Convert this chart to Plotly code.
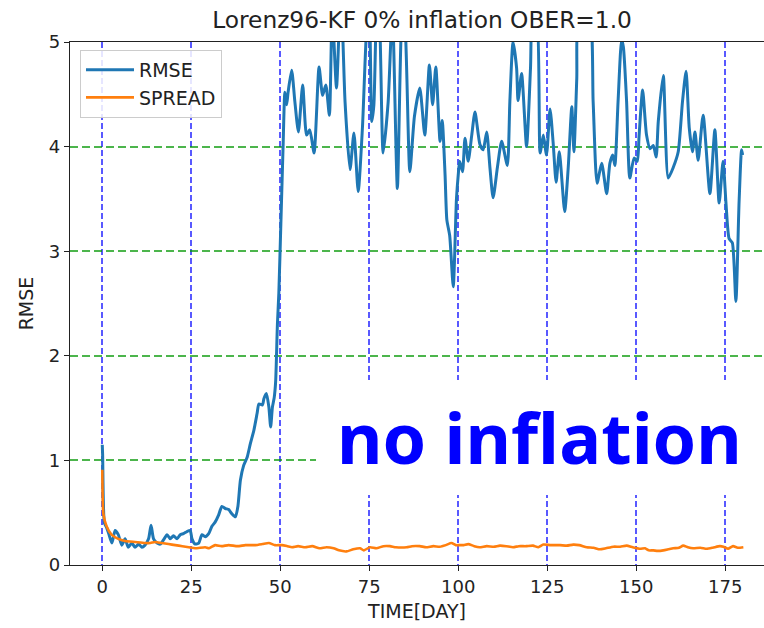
import plotly.graph_objects as go

# ---- data ----
rmse_t = [0.0, 0.1, 0.6, 1.2, 1.8, 2.7, 3.6, 4.5, 5.5, 6.4, 7.3, 8.3, 9.2, 10.2, 11.1, 12.0,
          13.0, 13.7, 14.4, 15.4, 16.3, 17.2, 18.2, 19.1, 20.0, 21.0, 21.9, 22.8, 23.8, 24.7,
          25.2, 26.1, 27.1, 28.0, 28.9, 29.9, 30.8, 31.7, 32.7, 33.6, 34.6, 35.5, 36.4, 37.4,
          38.1, 38.8, 39.7, 40.7, 41.6, 42.6, 43.5, 44.0, 45.0, 45.4, 46.1, 46.8, 47.3, 47.8,
          48.3, 48.7, 49.2, 49.6, 50.2, 50.8, 51.3, 51.8, 52.2, 53.2, 54.1, 55.1, 56.3, 57.4,
          58.3, 59.5, 60.9, 61.9, 62.8, 63.8, 64.6, 65.8, 66.9, 67.4, 68.2, 69.6, 70.7, 71.9,
          73.1, 74.4, 75.0, 75.7, 76.3, 77.2, 77.8, 78.9, 80.3, 81.5, 82.9, 84.3, 85.0, 86.4,
          87.7, 89.2, 90.6, 91.9, 92.8, 93.7, 94.9, 95.5, 96.3, 96.8, 97.6, 98.6, 99.5, 100.0,
          100.4, 101.2, 101.9, 102.8, 103.8, 104.7, 106.1, 107.0, 108.0, 108.9, 109.8, 111.0,
          112.2, 113.8, 114.5, 115.4, 116.4, 116.8, 117.8, 119.2, 120.3, 121.0, 121.9, 123.0,
          123.9, 124.8, 125.8, 126.7, 127.5, 128.4, 129.9, 130.9, 131.9, 132.5, 133.3, 134.0,
          136.7, 137.9, 139.0, 140.3, 141.7, 142.6, 143.4, 144.0, 144.9, 145.9, 146.4, 147.3,
          148.2, 149.4, 150.3, 150.8, 151.8, 152.9, 153.9, 154.8, 155.6, 156.2, 157.6, 159.0,
          160.4, 161.8, 163.0, 164.0, 164.9, 165.8, 166.5, 167.4, 168.8, 170.7, 172.1, 173.3,
          174.4, 175.2, 176.1, 177.0, 178.0, 178.9, 179.6, 179.9]
rmse_v = [1.15, 1.05, 0.40, 0.36, 0.30, 0.21, 0.33, 0.29, 0.19, 0.25, 0.17, 0.21, 0.17, 0.20, 0.17, 0.19,
          0.25, 0.38, 0.25, 0.21, 0.20, 0.24, 0.29, 0.25, 0.28, 0.25, 0.29, 0.30, 0.32, 0.33,
          0.25, 0.20, 0.21, 0.29, 0.27, 0.30, 0.37, 0.41, 0.48, 0.56, 0.54, 0.53, 0.49, 0.46,
          0.56, 0.81, 0.95, 1.03, 1.16, 1.29, 1.45, 1.54, 1.53, 1.59, 1.64, 1.51, 1.32, 1.51,
          1.60, 1.75, 2.30, 2.60, 3.30, 4.01, 4.52, 4.40, 4.52, 4.73, 4.43, 4.14, 4.59, 4.11,
          4.16, 3.94, 4.76, 4.49, 4.59, 4.30, 5.30, 4.56, 5.40, 5.20, 4.43, 3.78, 4.13, 3.57,
          4.19, 5.20, 5.30, 4.24, 4.40, 5.40, 5.30, 3.94, 4.42, 5.30, 3.60, 5.30, 5.20, 3.76,
          4.29, 4.56, 4.11, 4.78, 4.40, 4.76, 4.05, 4.25, 3.73, 3.30, 3.15, 2.66, 3.50, 3.73,
          3.86, 3.76, 4.08, 3.86, 4.11, 4.33, 4.02, 3.97, 4.14, 3.80, 3.51, 3.80,
          4.05, 3.82, 4.43, 5.00, 4.75, 4.44, 4.70, 4.00, 4.75, 5.30, 5.30, 3.94,
          4.11, 3.92, 4.36, 4.02, 3.66, 3.95, 3.38, 3.80, 4.38, 3.95, 4.65, 5.30,
          5.30, 4.43, 3.65, 3.84, 3.55, 3.84, 3.92, 3.82, 4.43, 5.02, 4.95, 4.43,
          3.70, 3.89, 3.86, 4.10, 4.54, 4.11, 3.98, 4.01, 3.90, 4.24, 4.68, 3.70,
          3.80, 3.95, 4.43, 4.72, 4.18, 3.95, 4.14, 3.87, 4.30, 3.55, 4.16, 3.46,
          3.86, 3.47, 3.12, 3.08, 2.52, 3.47, 3.97, 3.92]

spread_t = [0.0, 0.3, 1.2, 2.6, 4.5, 6.4, 9.2, 12.0, 13.5, 14.8, 16.7, 18.6, 20.5, 22.5, 24.3,
            26.1, 28.9, 30.0, 31.7, 33.5, 35.5, 38.0, 40.2, 43.0, 45.0, 46.8, 48.5, 50.5, 52.0,
            53.3, 55.0, 57.0, 59.0, 61.0, 63.0, 65.0, 66.5, 68.6, 70.5, 72.4, 73.5, 75.2, 77.0,
            79.0, 80.8, 82.5, 85.5, 87.0, 89.2, 91.0, 93.0, 94.8, 96.5, 98.1, 99.3, 100.4, 101.5,
            102.8, 104.5, 106.0, 108.0, 110.0, 111.7, 113.5, 115.4, 117.0, 119.0, 121.0, 122.5,
            123.9, 126.0, 128.6, 130.5, 132.3, 134.0, 136.1, 138.0, 139.8, 141.5, 143.6, 145.5,
            147.3, 149.0, 151.1, 152.5, 153.5, 154.8, 156.0, 157.6, 159.0, 160.4, 162.0, 163.2,
            164.5, 166.0, 168.0, 169.8, 171.5, 173.5, 174.5, 175.8, 177.2, 178.5, 180.1]
spread_v = [0.91, 0.49, 0.37, 0.29, 0.25, 0.23, 0.22, 0.21, 0.21, 0.22, 0.21, 0.20, 0.19, 0.18, 0.17,
            0.16, 0.17, 0.16, 0.19, 0.18, 0.19, 0.18, 0.19, 0.19, 0.20, 0.21, 0.19, 0.19, 0.18,
            0.17, 0.18, 0.17, 0.18, 0.16, 0.17, 0.16, 0.14, 0.13, 0.15, 0.16, 0.14, 0.17, 0.16,
            0.18, 0.18, 0.17, 0.17, 0.18, 0.18, 0.17, 0.18, 0.175, 0.19, 0.21, 0.19, 0.19, 0.19,
            0.20, 0.18, 0.17, 0.18, 0.175, 0.185, 0.18, 0.17, 0.18, 0.18, 0.185, 0.17,
            0.195, 0.19, 0.19, 0.185, 0.195, 0.19, 0.17, 0.165, 0.15, 0.16, 0.175, 0.175,
            0.185, 0.17, 0.155, 0.16, 0.14, 0.14, 0.135, 0.14, 0.15, 0.16, 0.165, 0.185,
            0.17, 0.16, 0.165, 0.155, 0.165, 0.18, 0.175, 0.155, 0.18, 0.165, 0.17]

x_ticks = [0, 25, 50, 75, 100, 125, 150, 175]
y_ticks = [0, 1, 2, 3, 4, 5]

title_text = "Lorenz96-KF 0% inflation OBER=1.0"
note_text = "no inflation"

FONT = "DejaVu Sans"

fig = go.Figure()
fig.add_trace(go.Scatter(x=rmse_t, y=rmse_v, mode="lines", name="RMSE",
                         line=dict(color="#1f77b4", width=3, shape="spline", smoothing=0.6)))
fig.add_trace(go.Scatter(x=spread_t, y=spread_v, mode="lines", name="SPREAD",
                         line=dict(color="#ff7f0e", width=2.6, shape="spline", smoothing=0.5)))

# white box behind the big note text
fig.add_shape(type="rect", xref="paper", yref="paper",
              x0=0.3545, x1=1.0, y0=0.1338, y1=0.3537,
              fillcolor="white", line=dict(width=0), layer="above")
fig.add_annotation(text=note_text, xref="paper", yref="paper", x=0.677, y=0.245,
                   xanchor="center", yanchor="middle", showarrow=False,
                   font=dict(family="Noto Sans", size=70, color="#0000ff", weight="bold"))

fig.update_layout(
    width=764, height=628,
    margin=dict(l=70, r=0, t=42, b=63),
    paper_bgcolor="white", plot_bgcolor="white",
    font=dict(family=FONT, color="#222"),
    title=dict(text=title_text, x=0.5524, xref="container", xanchor="center",
               y=1 - 20 / 628, yref="container", yanchor="middle",
               font=dict(family=FONT, size=23.3, color="#222")),
    legend=dict(x=0.0144, y=0.985, xanchor="left", yanchor="top",
                bgcolor="rgba(255,255,255,0.85)", bordercolor="#cccccc", borderwidth=1,
                font=dict(family=FONT, size=19, color="#222"), itemwidth=48),
    showlegend=True,
)
fig.update_xaxes(range=[-9.07, 185.9], tickvals=x_ticks, ticktext=[str(v) for v in x_ticks],
                 ticks="outside", ticklen=5, tickcolor="#222", tickwidth=1.3,
                 showline=True, linecolor="#222", linewidth=1.3, mirror=True,
                 showgrid=True, gridcolor="rgba(0,0,255,0.65)", gridwidth=1.5, griddash="6px,3px",
                 zeroline=False, tickfont=dict(family=FONT, size=18, color="#222"),
                 title=dict(text="TIME[DAY]", font=dict(family=FONT, size=19, color="#222"), standoff=8))
fig.update_yaxes(range=[0, 5], tickvals=y_ticks, ticktext=[str(v) for v in y_ticks],
                 ticks="outside", ticklen=5, tickcolor="#222", tickwidth=1.3,
                 showline=True, linecolor="#222", linewidth=1.3, mirror=False,
                 showgrid=True, gridcolor="rgba(0,150,0,0.7)", gridwidth=1.5, griddash="8px,4px",
                 zeroline=False, tickfont=dict(family=FONT, size=18, color="#222"),
                 title=dict(text="RMSE", font=dict(family=FONT, size=19, color="#222"), standoff=10))

fig.write_html("out.html", config={"displayModeBar": False},
               post_script="document.body.style.margin='0';")
